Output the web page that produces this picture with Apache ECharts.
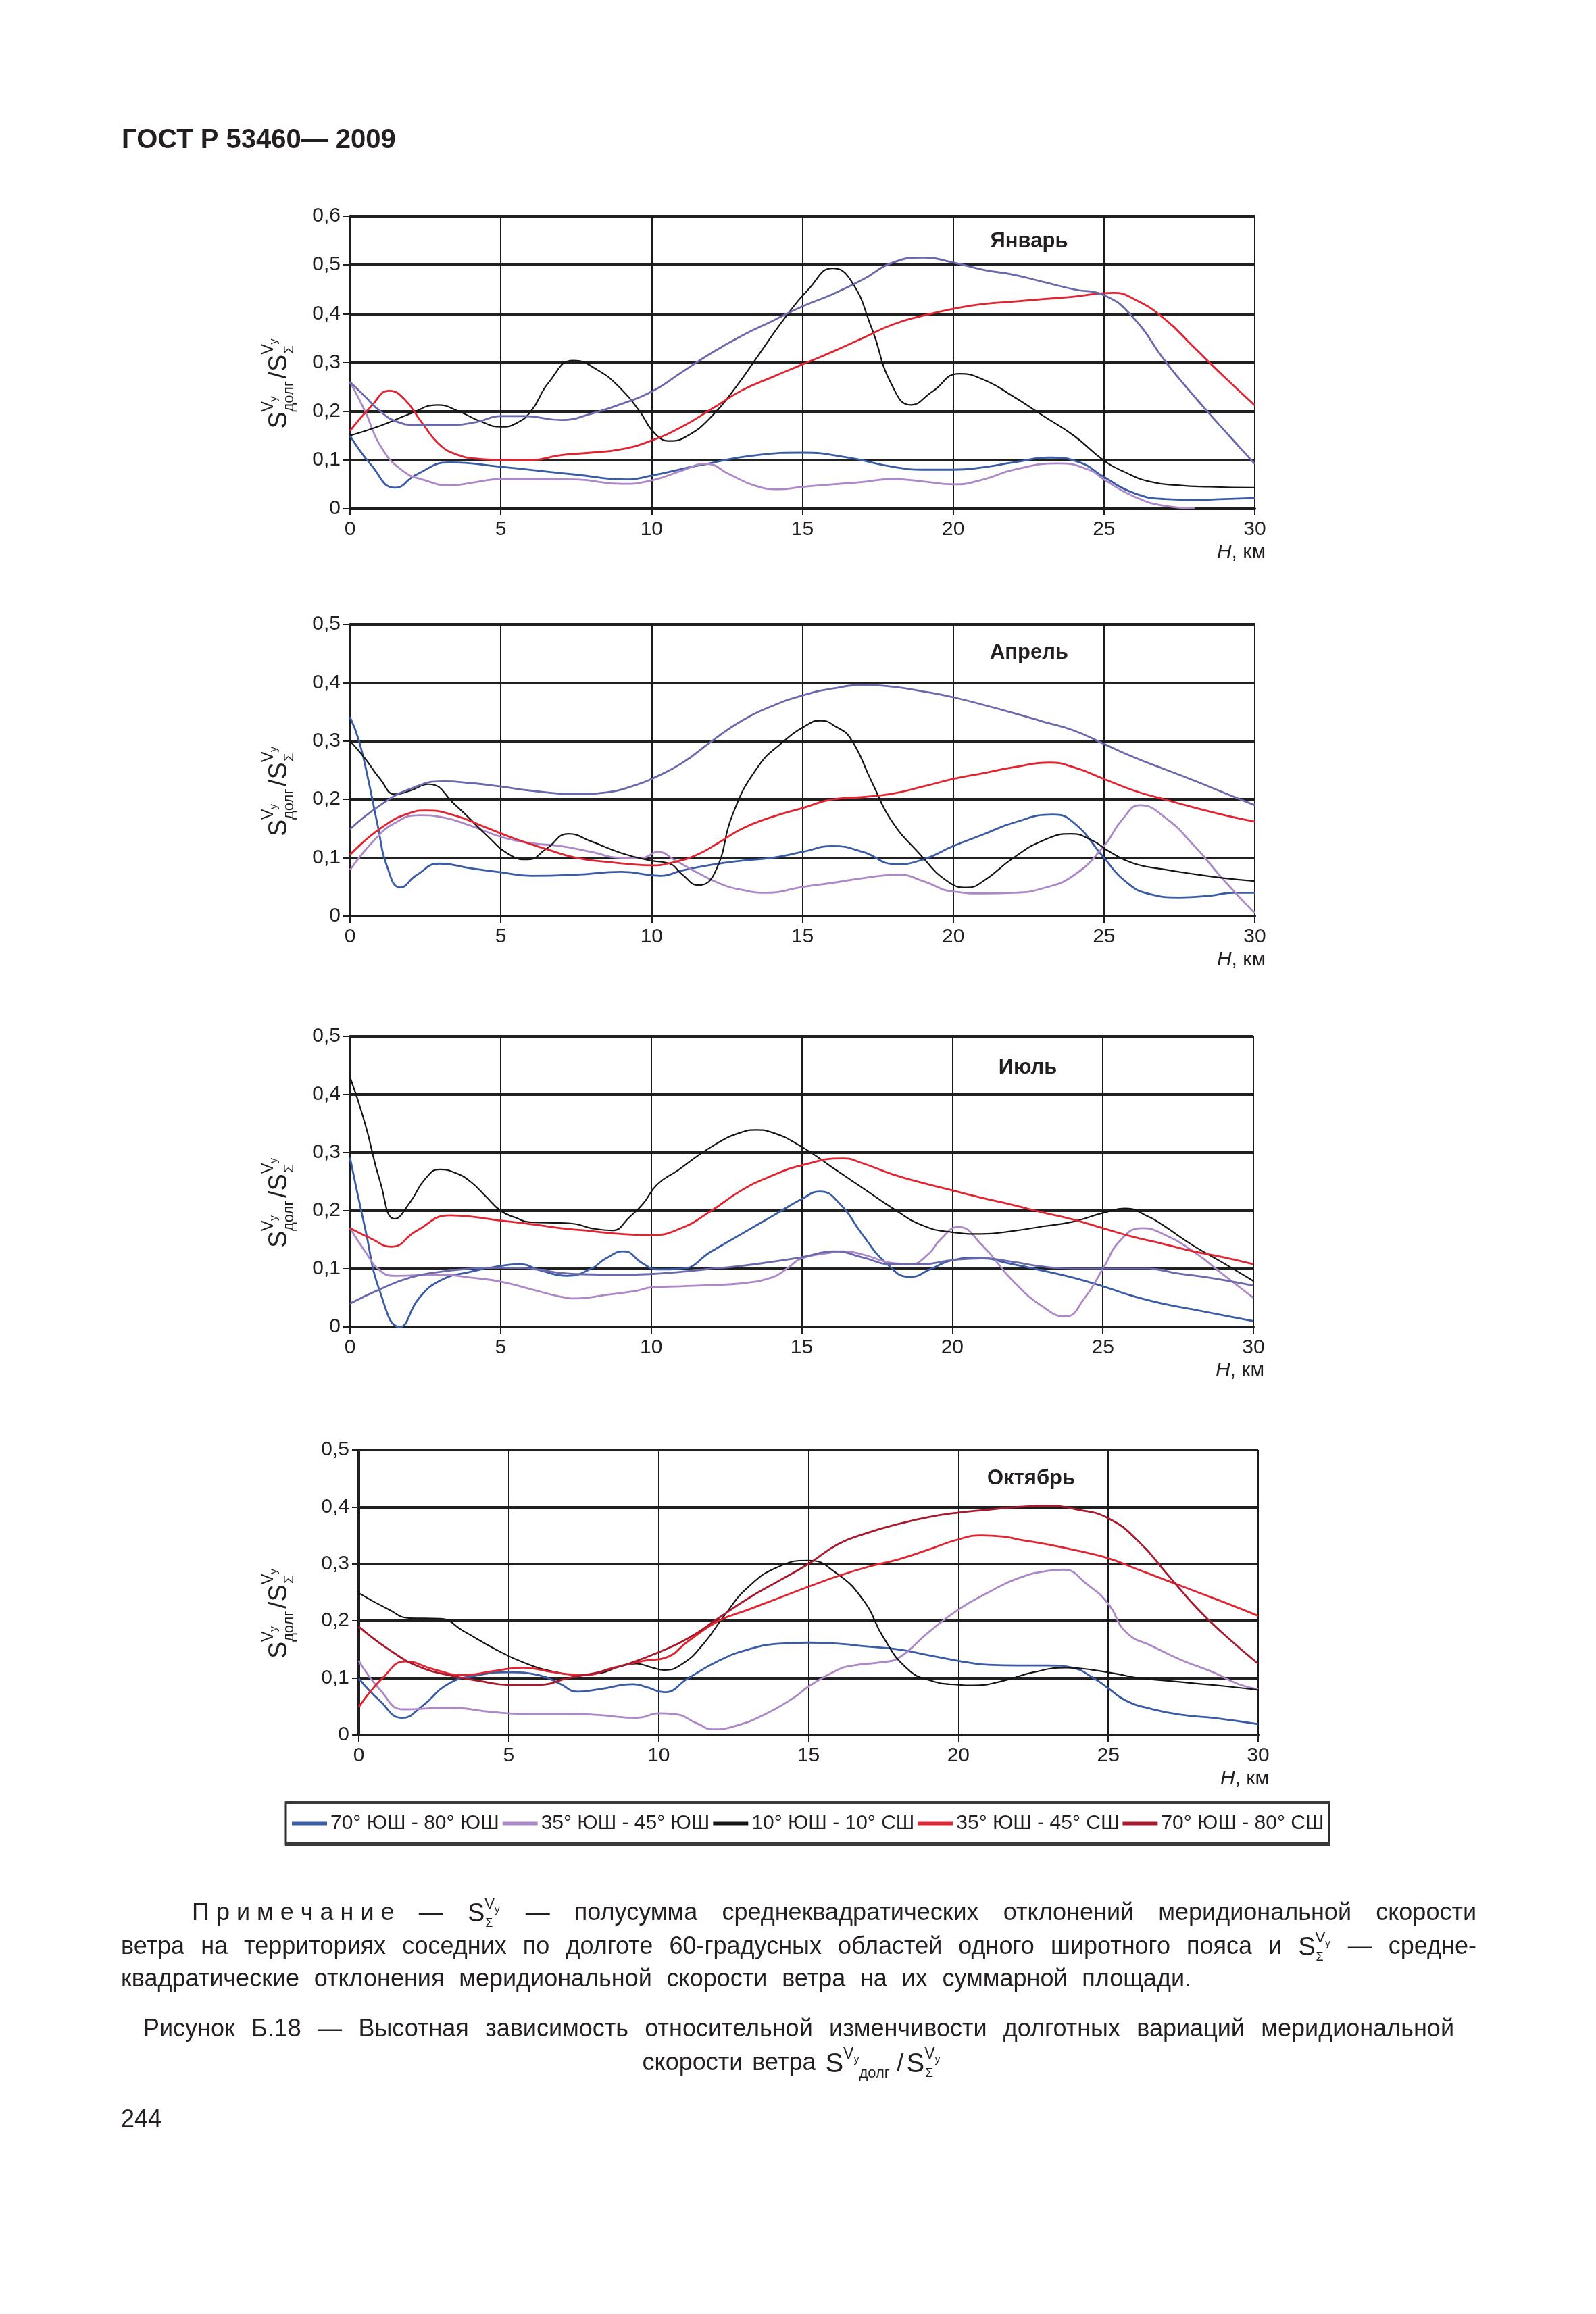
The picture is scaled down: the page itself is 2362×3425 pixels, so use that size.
<!DOCTYPE html>
<html><head><meta charset="utf-8">
<script src="https://cdn.jsdelivr.net/npm/echarts@6.0.0/dist/echarts.min.js"></script>
<style>html,body{margin:0;padding:0;background:#fff}#c{width:2362px;height:3425px}</style>
</head><body><div id="c"></div><script>
// ---------------- DATA ----------------
const seriesNames = ['70° ЮШ - 80° ЮШ', '35° ЮШ - 45° ЮШ', '10° ЮШ - 10° СШ', '35° ЮШ - 45° СШ', '70° ЮШ - 80° СШ'];
const months = ['Январь', 'Апрель', 'Июль', 'Октябрь'];
const yMaxes = [0.6, 0.5, 0.5, 0.5];

// January
const janBlue = [[0,0.15],[0.7,0.09],[1.5,0.043],[2.2,0.07],[3.3,0.095],[5,0.086],[7.5,0.07],[9.2,0.06],[10,0.068],[11.5,0.088],[13.5,0.11],[15,0.115],[16.5,0.105],[18,0.086],[19,0.08],[20,0.08],[21,0.085],[22,0.095],[23.2,0.105],[24.2,0.095],[25,0.065],[26,0.032],[27,0.02],[28,0.018],[29,0.02],[30,0.022]];
const janLilac = [[0,0.26],[0.5,0.2],[1,0.13],[1.7,0.08],[2.5,0.058],[3.3,0.048],[4.2,0.055],[5,0.061],[6,0.061],[7.5,0.06],[9,0.051],[10,0.058],[11,0.078],[11.8,0.092],[12.6,0.07],[13.4,0.048],[14.2,0.04],[15,0.045],[16,0.05],[17,0.055],[18,0.061],[19,0.056],[20,0.05],[21,0.06],[22,0.08],[23.5,0.093],[24.5,0.08],[25,0.06],[26,0.025],[27,0.006],[28,0.001]];
const janBlack = [[0,0.15],[1,0.17],[2,0.195],[2.9,0.213],[3.6,0.2],[4.3,0.18],[5,0.168],[5.5,0.175],[6,0.2],[6.6,0.26],[7.4,0.304],[8.2,0.285],[9,0.245],[9.6,0.2],[10.1,0.155],[10.6,0.139],[11.2,0.15],[12,0.19],[12.8,0.25],[13.6,0.32],[14.4,0.39],[15.2,0.45],[16,0.493],[16.6,0.469],[17.3,0.37],[17.95,0.256],[18.6,0.213],[19.3,0.24],[20.2,0.277],[21,0.265],[22,0.23],[23,0.19],[24,0.15],[25,0.099],[25.7,0.075],[26.5,0.056],[27.5,0.048],[28.5,0.045],[30,0.043]];
const janRed = [[0,0.16],[0.7,0.21],[1.3,0.242],[1.8,0.225],[2.4,0.175],[3,0.13],[3.6,0.11],[4.3,0.102],[5,0.1],[6,0.1],[7,0.11],[8,0.115],[9,0.122],[10,0.14],[11,0.168],[12,0.205],[13,0.243],[14,0.27],[15,0.296],[16,0.322],[17,0.35],[18,0.378],[19,0.396],[20,0.41],[21,0.42],[22,0.425],[23,0.43],[24,0.435],[25.3,0.443],[26,0.43],[27,0.39],[28,0.33],[29,0.27],[30,0.212]];
const janHigh = [[0,0.26],[0.5,0.23],[1,0.2],[1.5,0.18],[2.2,0.172],[3.3,0.172],[4.2,0.178],[5,0.19],[5.8,0.19],[7,0.182],[8,0.195],[9,0.215],[10,0.24],[11,0.28],[12,0.32],[13,0.355],[14,0.385],[15,0.415],[16,0.44],[17,0.47],[18,0.505],[19,0.515],[20,0.505],[21,0.49],[22,0.48],[23,0.465],[24,0.45],[25,0.438],[26,0.39],[27,0.305],[28,0.23],[29,0.16],[30,0.092]];

// April
const aprBlue = [[0,0.341],[0.3,0.3],[0.6,0.235],[0.9,0.16],[1.25,0.082],[1.67,0.049],[2.2,0.07],[2.97,0.09],[4,0.082],[5,0.075],[6,0.069],[7.5,0.071],[9,0.076],[10.3,0.069],[11,0.078],[12,0.088],[13,0.095],[14,0.1],[15,0.11],[16,0.12],[17,0.11],[18.1,0.089],[19,0.097],[20,0.12],[21,0.14],[22,0.16],[23.3,0.174],[24,0.16],[25,0.1],[25.7,0.06],[26.5,0.038],[27.5,0.032],[28.5,0.035],[29.3,0.04],[30,0.04]];
const aprLilac = [[0,0.079],[0.8,0.13],[1.5,0.16],[2.3,0.173],[3,0.17],[4,0.155],[5,0.136],[6,0.125],[7,0.12],[8,0.11],[9,0.1],[9.7,0.1],[10.2,0.11],[10.8,0.095],[11.5,0.075],[12.3,0.055],[13,0.045],[13.8,0.04],[15,0.05],[16,0.057],[17,0.065],[18.2,0.071],[19,0.06],[20,0.042],[21,0.039],[22,0.04],[23,0.048],[24,0.07],[25,0.12],[25.6,0.165],[26.2,0.19],[27,0.17],[28,0.12],[29,0.06],[30,0.005]];
const aprBlack = [[0,0.3],[0.5,0.27],[1,0.235],[1.5,0.209],[2,0.215],[2.6,0.226],[3.5,0.19],[4.5,0.14],[5.3,0.105],[5.9,0.097],[6.5,0.115],[7.25,0.141],[8,0.128],[9,0.108],[10,0.095],[10.6,0.09],[11,0.072],[11.55,0.053],[12.1,0.075],[12.7,0.176],[13.5,0.254],[14.3,0.296],[15.2,0.329],[15.6,0.335],[16.1,0.325],[16.6,0.304],[17.3,0.23],[17.95,0.164],[18.9,0.106],[19.8,0.06],[20.47,0.049],[21,0.06],[22,0.1],[23,0.13],[23.9,0.141],[24.6,0.13],[25.2,0.11],[26,0.09],[27,0.08],[28,0.072],[29,0.065],[30,0.06]];
const aprRed = [[0,0.105],[1,0.15],[2,0.177],[2.5,0.181],[3.5,0.172],[4.5,0.152],[5.5,0.132],[6.5,0.115],[7.5,0.1],[8.5,0.093],[9.5,0.088],[10,0.087],[10.7,0.092],[11.5,0.105],[12.2,0.125],[13,0.15],[14,0.17],[15,0.185],[16,0.2],[17,0.204],[18,0.21],[19,0.222],[20,0.235],[21,0.245],[22,0.255],[23.2,0.263],[24,0.255],[25,0.235],[26,0.215],[27,0.2],[28,0.186],[29,0.173],[30,0.162]];
const aprHigh = [[0,0.149],[1,0.19],[2,0.218],[3.1,0.231],[4,0.228],[5,0.222],[6,0.215],[7.5,0.209],[8.5,0.212],[9.5,0.225],[10,0.235],[11,0.262],[12,0.3],[13,0.335],[14,0.36],[15,0.378],[16,0.39],[17.15,0.396],[18,0.393],[19,0.385],[20,0.375],[21,0.362],[22,0.348],[23,0.333],[24,0.318],[25,0.295],[26,0.272],[27,0.252],[28,0.232],[29,0.211],[30,0.19]];

// July
const julBlue = [[0,0.291],[0.5,0.17],[1,0.06],[1.65,0.0],[2.3,0.05],[3,0.08],[4,0.095],[5,0.105],[5.6,0.108],[6.4,0.096],[7.2,0.088],[8,0.1],[8.5,0.118],[9.1,0.13],[9.7,0.11],[10.2,0.099],[11,0.1],[12,0.13],[13,0.16],[14,0.19],[15,0.22],[15.6,0.233],[16.3,0.21],[17,0.16],[17.8,0.11],[18.6,0.086],[19.3,0.1],[20,0.115],[20.8,0.119],[22,0.108],[23,0.097],[24,0.085],[25,0.07],[26,0.053],[27,0.04],[28,0.03],[29,0.02],[30,0.01]];
const julLilac = [[0,0.17],[0.5,0.13],[1,0.097],[1.5,0.088],[3,0.09],[4,0.085],[5,0.078],[6,0.065],[7,0.052],[7.55,0.049],[8.5,0.055],[9.5,0.062],[10,0.068],[11,0.07],[12,0.072],[13,0.075],[14,0.085],[14.5,0.1],[15,0.118],[16,0.128],[16.3,0.13],[17,0.125],[18,0.11],[18.6,0.108],[19.2,0.125],[19.6,0.15],[20.2,0.172],[21,0.14],[22,0.08],[23,0.035],[23.75,0.018],[24.4,0.05],[25,0.1],[25.6,0.15],[26.3,0.17],[27,0.16],[28,0.13],[29,0.09],[30,0.05]];
const julBlack = [[0,0.43],[0.5,0.35],[1,0.25],[1.49,0.186],[2,0.215],[2.5,0.255],[2.98,0.271],[3.5,0.265],[4,0.25],[4.5,0.225],[5,0.2],[5.5,0.188],[6,0.18],[7,0.179],[7.5,0.177],[8,0.17],[8.7,0.166],[9.3,0.19],[9.73,0.212],[10.2,0.245],[10.9,0.27],[12,0.31],[13,0.335],[13.5,0.339],[14,0.335],[15,0.31],[16,0.275],[17,0.24],[18,0.205],[19,0.175],[20,0.163],[20.95,0.16],[22,0.165],[23,0.173],[24,0.181],[25,0.196],[25.76,0.204],[26.5,0.19],[27,0.175],[28,0.14],[29,0.11],[30,0.079]];
const julRed = [[0,0.17],[0.7,0.152],[1.37,0.138],[2.2,0.165],[3.32,0.192],[4,0.19],[5,0.183],[6,0.177],[7,0.17],[8,0.165],[9,0.16],[10,0.158],[11,0.17],[12,0.2],[13,0.235],[14,0.26],[15,0.278],[16.37,0.29],[17,0.282],[18,0.263],[19,0.248],[20,0.235],[21,0.222],[22,0.21],[23,0.197],[24,0.185],[25,0.17],[26,0.155],[27,0.143],[28,0.13],[29,0.12],[30,0.108]];
const julHigh = [[0,0.04],[1,0.065],[2,0.085],[3,0.095],[4,0.1],[5,0.102],[6,0.1],[7,0.093],[7.5,0.091],[9,0.09],[9.96,0.091],[11,0.095],[12,0.1],[13,0.105],[14,0.112],[15,0.12],[16.1,0.13],[17,0.12],[18,0.108],[19,0.108],[20,0.115],[21,0.118],[22,0.112],[23,0.104],[24,0.1],[25,0.1],[26.5,0.1],[27.5,0.092],[28.5,0.085],[29.3,0.078],[30,0.071]];

// October
const octBlue = [[0,0.099],[0.7,0.06],[1.45,0.03],[2.1,0.05],[3,0.09],[4,0.105],[5,0.11],[6,0.105],[6.7,0.09],[7.31,0.076],[8,0.08],[9.15,0.089],[9.6,0.084],[10.18,0.075],[11,0.1],[12,0.13],[13,0.15],[14,0.16],[15,0.162],[16,0.16],[17,0.155],[18,0.15],[19,0.14],[20,0.13],[21,0.123],[22,0.122],[23,0.122],[23.8,0.118],[24.5,0.1],[25,0.082],[25.6,0.06],[26.5,0.045],[27.5,0.035],[28.5,0.03],[30,0.019]];
const octLilac = [[0,0.13],[0.7,0.08],[1.5,0.045],[3,0.048],[4.5,0.04],[5.5,0.037],[7,0.037],[8,0.035],[9.3,0.03],[10,0.038],[10.5,0.037],[11.3,0.02],[11.8,0.01],[12.5,0.015],[13.5,0.035],[14.5,0.065],[15,0.085],[16,0.115],[16.5,0.122],[17.5,0.128],[18,0.135],[19,0.18],[20,0.22],[21,0.25],[22,0.275],[23,0.288],[23.5,0.29],[24.3,0.264],[25,0.23],[25.6,0.18],[26.5,0.155],[27.5,0.13],[28.5,0.11],[29.3,0.09],[30,0.08]];
const octBlack = [[0,0.249],[1,0.22],[1.68,0.205],[2.7,0.204],[3.5,0.182],[4.5,0.152],[5.5,0.127],[6.5,0.111],[7.3,0.106],[8,0.108],[8.7,0.12],[9.26,0.125],[9.8,0.118],[10.18,0.114],[10.8,0.125],[11.5,0.16],[12.2,0.21],[13,0.26],[14,0.295],[15,0.306],[15.9,0.285],[16.85,0.235],[17.5,0.171],[18.3,0.116],[19.1,0.095],[20,0.088],[20.5,0.087],[21.5,0.095],[22.5,0.11],[23.6,0.118],[24.5,0.114],[25.3,0.107],[26,0.1],[27,0.095],[28,0.09],[29,0.085],[30,0.079]];
const octRed = [[0,0.049],[0.8,0.1],[1.56,0.129],[2.5,0.115],[3.5,0.105],[4.5,0.112],[5.47,0.118],[6.5,0.11],[7.5,0.105],[8.5,0.118],[9.5,0.13],[10.2,0.135],[11,0.165],[12,0.2],[13,0.22],[14,0.24],[15,0.26],[16,0.279],[17,0.295],[18,0.308],[19,0.325],[20,0.343],[20.76,0.35],[21.5,0.348],[22,0.343],[23,0.334],[24,0.323],[25,0.31],[26,0.29],[27,0.27],[28,0.25],[29,0.23],[30,0.209]];
const octHigh = [[0,0.19],[1,0.15],[2,0.12],[3,0.105],[4,0.095],[5,0.088],[6,0.088],[7,0.1],[8,0.11],[9,0.125],[10,0.145],[11,0.17],[12,0.205],[13,0.24],[14,0.27],[15,0.3],[16,0.335],[17,0.355],[18,0.37],[19,0.382],[20,0.39],[21,0.395],[22,0.4],[22.94,0.402],[24,0.395],[25,0.38],[26,0.34],[27,0.28],[28,0.22],[29,0.17],[30,0.125]];

const panelSeries = [
  [janBlue, janLilac, janBlack, janRed, janHigh],
  [aprBlue, aprLilac, aprBlack, aprRed, aprHigh],
  [julBlue, julLilac, julBlack, julRed, julHigh],
  [octBlue, octLilac, octBlack, octRed, octHigh]
];

// ---------------- STYLE / LAYOUT ----------------
const FONT = '"Liberation Sans", Arial, Helvetica, sans-serif';
const TXT = '#231f20';
const C = { blue: '#3a5ba6', lilac: '#ad88c8', black: '#151515', red: '#e3232f', darkred: '#a8192e', slate: '#6b69ae' };
const legendColors = [C.blue, C.lilac, C.black, C.red, C.darkred];
const panelColors = [
  [C.blue, C.lilac, C.black, C.red, C.slate],
  [C.blue, C.lilac, C.black, C.red, C.slate],
  [C.blue, C.lilac, C.black, C.red, C.slate],
  [C.blue, C.lilac, C.black, C.red, C.darkred]
];
const grids = [
  { left: 518, top: 320, width: 1339, height: 433 },
  { left: 518, top: 924, width: 1339, height: 432 },
  { left: 518, top: 1534, width: 1337, height: 430 },
  { left: 531, top: 2146, width: 1331, height: 422 }
];
const titlePos = [[1523, 357], [1523, 966], [1521, 1580], [1526, 2188]];

const ctx = document.createElement('canvas').getContext('2d');
function tw(s, size, weight) { ctx.font = (weight || 'normal') + ' ' + size + 'px ' + FONT; return ctx.measureText(s).width; }
function T(text, x, y, size, extra) {
  return { type: 'text', x: x, y: y, silent: true,
    style: Object.assign({ text: text, fontSize: size, fontFamily: FONT, fill: TXT,
      align: 'left', textAlign: 'left', verticalAlign: 'middle', textVerticalAlign: 'middle' }, extra || {}) };
}

const graphics = [];
// header
graphics.push(T('ГОСТ Р 53460— 2009', 180, 208, 40, { fontWeight: 'bold' }));

grids.forEach((g, i) => {
  graphics.push(T(months[i], titlePos[i][0], titlePos[i][1], 31, { fontWeight: 'bold', align: 'center', textAlign: 'center' }));
  const xr = g.left + g.width + 16, yb = g.top + g.height + 65;
  graphics.push({ type: 'text', x: xr, y: yb, silent: true, style: {
    text: '{i|H}{n|, км}', align: 'right', textAlign: 'right', verticalAlign: 'middle', textVerticalAlign: 'middle',
    fontFamily: FONT, fontSize: 30, fill: TXT,
    rich: { i: { fontStyle: 'italic', fontSize: 30, fontFamily: FONT, fill: TXT }, n: { fontSize: 30, fontFamily: FONT, fill: TXT } } } });
  const cy = g.top + g.height / 2 + 28;
  graphics.push({ type: 'group', x: 412, y: cy, rotation: Math.PI / 2, silent: true, children: [
    T('S', -70, 2, 38), T('V', -45, -14, 23), T('y', -30, -6, 16), T('долг', -45, 16, 22),
    T('/S', 4, 2, 38), T('V', 40, -14, 23), T('y', 55, -6, 16), T('Σ', 41, 16, 20)
  ] });
});

// legend frame
graphics.push({ type: 'rect', silent: true, shape: { x: 423, y: 2668, width: 1544, height: 62 }, style: { fill: 'none', stroke: '#2e2e2e', lineWidth: 3 } });
graphics.push({ type: 'rect', silent: true, shape: { x: 422, y: 2666, width: 1546, height: 4 }, style: { fill: '#3a3a3a' } });
graphics.push({ type: 'rect', silent: true, shape: { x: 422, y: 2727, width: 1546, height: 6 }, style: { fill: '#3a3a3a' } });

// ---------- notes ----------
const BS = 36;
function formulaSum() {
  const wS = tw('S', 38), wV = tw('V', 22), wy = tw('y', 15);
  return { kind: 'f', w: wS + wV + wy + 2, build: (x, y) => [
    T('S', x, y + 2, 38), T('V', x + wS, y - 13, 22), T('y', x + wS + wV, y - 5, 15), T('Σ', x + wS + 1, y + 15, 18)] };
}
function formulaRatio() {
  const wS = tw('S', 40), wV = tw('V', 23), wy = tw('y', 16), wd = tw('долг', 22), wsl = tw('/', 38);
  const a = wS + wV + wy;
  const b = a + wd + 10;
  return { kind: 'f', w: b + wsl + wS + wV + wy + 16, build: (x, y) => [
    T('S', x, y + 2, 40), T('V', x + wS, y - 13, 23), T('y', x + wS + wV, y - 5, 16), T('долг', x + a, y + 15, 22),
    T('/', x + b, y + 2, 38), T('S', x + b + wsl + 4, y + 2, 40), T('V', x + b + wsl + 4 + wS, y - 13, 23),
    T('y', x + b + wsl + 4 + wS + wV, y - 5, 16), T('Σ', x + b + wsl + 5 + wS, y + 15, 19)] };
}
function W(s) { return { kind: 'w', t: s }; }
function words(s) { return s.split(' ').filter(Boolean).map(W); }
function placeLine(items, x0, x1, y, mode) {
  const widths = items.map(it => it.kind === 'w' ? tw(it.t, BS) : it.w);
  const sum = widths.reduce((a, b) => a + b, 0);
  let gap = tw(' ', BS) + 4, x = x0;
  if (mode === 'justify') gap = (x1 - x0 - sum) / (items.length - 1);
  if (mode === 'center') { const tot = sum + gap * (items.length - 1); x = x0 - tot / 2; }
  items.forEach((it, i) => {
    if (it.kind === 'w') graphics.push(T(it.t, x, y, BS)); else it.build(x, y).forEach(e => graphics.push(e));
    x += widths[i] + gap;
  });
}
placeLine([W('П р и м е ч а н и е'), W('—'), formulaSum(), W('—')].concat(words('полусумма среднеквадратических отклонений меридиональной скорости')), 284, 2185, 2832, 'justify');
placeLine(words('ветра на территориях соседних по долготе 60-градусных областей одного широтного пояса и').concat([formulaSum(), W('—'), W('средне-')]), 179, 2185, 2882, 'justify');
placeLine(words('квадратические отклонения меридиональной скорости ветра на их суммарной площади.'), 179, 1763, 2930, 'justify');
placeLine(words('Рисунок Б.18 — Высотная зависимость относительной изменчивости долготных вариаций меридиональной'), 212, 2152, 3004, 'justify');
placeLine(words('скорости ветра').concat([formulaRatio()]), 1177, 0, 3054, 'center');
graphics.push(T('244', 179, 3138, BS));

// ---------------- OPTION ----------------
const yFmt = v => v === 0 ? '0' : v.toFixed(1).replace('.', ',');
const xAxes = [], yAxes = [], series = [];
grids.forEach((g, i) => {
  xAxes.push({ type: 'value', gridIndex: i, min: 0, max: 30, interval: 5,
    axisLine: { show: true, onZero: false, lineStyle: { color: '#1e1e1e', width: 4 } },
    axisTick: { show: true, length: 10, lineStyle: { color: '#1e1e1e', width: 2 } },
    axisLabel: { fontSize: 30, fontFamily: FONT, color: TXT, margin: 16 },
    splitLine: { show: true, lineStyle: { color: '#1a1a1a', width: 2 } } });
  yAxes.push({ type: 'value', gridIndex: i, min: 0, max: yMaxes[i], interval: 0.1,
    axisLine: { show: true, onZero: false, lineStyle: { color: '#1e1e1e', width: 4 } },
    axisTick: { show: true, length: 10, lineStyle: { color: '#1e1e1e', width: 2 } },
    axisLabel: { fontSize: 30, fontFamily: FONT, color: TXT, margin: 14, formatter: yFmt },
    splitLine: { show: true, lineStyle: { color: '#202020', width: 4 } } });
  panelSeries[i].forEach((d, s) => {
    const col = panelColors[i][s];
    series.push({ type: 'line', name: seriesNames[s], xAxisIndex: i, yAxisIndex: i, data: d,
      smooth: 0.5, showSymbol: false, symbol: 'none', silent: true,
      lineStyle: { color: col, width: s === 2 ? 2.2 : 2.8 }, itemStyle: { color: col }, z: 3 + s });
  });
});

const option = {
  backgroundColor: '#ffffff',
  animation: false,
  grid: grids.map(g => Object.assign({ containLabel: false }, g)),
  xAxis: xAxes,
  yAxis: yAxes,
  legend: { left: 432, top: 2684, padding: 0, itemWidth: 52, itemHeight: 5, itemGap: 5, selectedMode: false,
    textStyle: { fontSize: 30, fontFamily: FONT, color: TXT },
    data: seriesNames.map((n, i) => ({ name: n, icon: 'rect', itemStyle: { color: legendColors[i] } })) },
  graphic: graphics,
  series: series
};
const chart = echarts.init(document.getElementById('c'), null, { renderer: 'canvas' });
chart.setOption(option);
</script></body></html>
